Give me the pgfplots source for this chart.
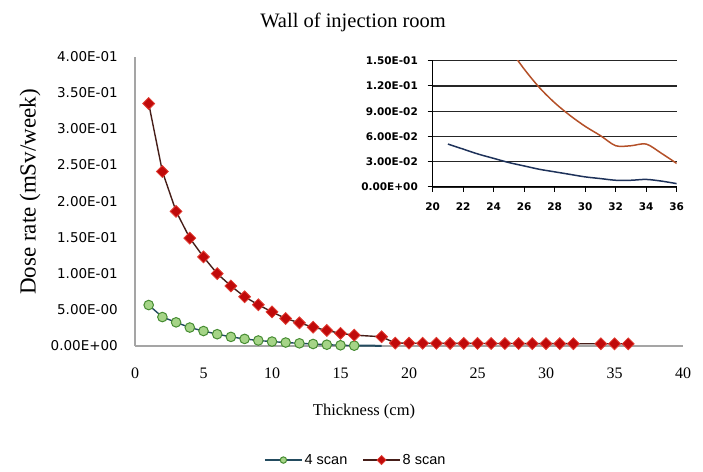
\documentclass[border=0pt]{standalone}
\usepackage{fontspec}
\setmainfont{Liberation Serif}
\newfontfamily\dejavu{DejaVu Sans}
\newfontfamily\libsans{Liberation Sans}
\usepackage{pgfplots}
\pgfplotsset{compat=1.18}
\definecolor{axisgray}{RGB}{165,165,165}
\definecolor{greenfill}{RGB}{165,212,135}
\definecolor{greenedge}{RGB}{70,140,50}
\definecolor{linefour}{RGB}{35,75,95}
\definecolor{redfill}{RGB}{192,10,10}
\definecolor{rededge}{RGB}{225,60,50}
\definecolor{lineeight}{RGB}{70,30,25}
\definecolor{insetfour}{RGB}{30,50,90}
\definecolor{inseteight}{RGB}{180,80,40}
\begin{document}
\begin{tikzpicture}
\path[use as bounding box] (0pt,0pt) rectangle (703pt,471pt);
\begin{axis}[
  at={(135pt,125pt)}, anchor=south west, scale only axis,
  width=548pt, height=289.5pt,
  xmin=0, xmax=40, ymin=0, ymax=0.4,
  clip=false,
  axis lines=left,
  axis line style={-, draw=axisgray, line width=1.5pt},
  xtick={0,5,10,15,20,25,30,35,40},
  xticklabels={0,5,10,15,20,25,30,35,40},
  ytick={0,0.05,0.1,0.15,0.2,0.25,0.3,0.35,0.4},
  yticklabels={0.00E+00,5.00E-00,1.00E-01,1.50E-01,2.00E-01,2.50E-01,3.00E-01,3.50E-01,4.00E-01},
  major tick length=0pt,
  xticklabel style={font=\fontsize{16}{16}\selectfont, anchor=base, inner sep=0pt, yshift=-32pt},
  yticklabel style={font=\dejavu\fontsize{13.5}{14}\selectfont, anchor=east, inner sep=0pt, xshift=-17pt},
  title={Wall of injection room},
  every axis title/.style={at={(0.398,1.119)}, anchor=center, font=\fontsize{20.5}{22}\selectfont},
  xlabel={Thickness (cm)},
  every axis x label/.style={at={(0.418,-0.227)}, anchor=center, font=\fontsize{16.5}{18}\selectfont},
  ylabel={Dose rate (mSv/week)},
  every axis y label/.style={at={(-0.1916,0.532)}, anchor=center, rotate=90, font=\fontsize{23}{24}\selectfont},
  legend style={at={(0.403,-0.394)}, anchor=center, draw=none, fill=none,
    font=\libsans\fontsize{14.5}{15}\selectfont, legend columns=2,
    /tikz/every even column/.append style={column sep=13pt}},
  legend image code/.code={\draw[mark repeat=2,mark phase=2,mark size=3.2pt] plot coordinates {(0pt,0pt) (18.5pt,0pt) (37pt,0pt)};},
]
\addplot[color=linefour, line width=2pt, forget plot] coordinates {(16,0.0005) (18,0.0003)};
\addplot[color=linefour, line width=1.4pt, mark=*, mark size=4.8pt,
  mark options={fill=greenfill, draw=greenedge, line width=1pt, solid}] coordinates {
(1,0.0566) (2,0.0400) (3,0.0327) (4,0.0255) (5,0.0207) (6,0.0163) (7,0.0126)
(8,0.0098) (9,0.0076) (10,0.0061) (11,0.0048) (12,0.0037) (13,0.0028)
(14,0.0018) (15,0.0010) (16,0.0005)};
\addlegendentry{4 scan}
\addplot[color=lineeight, line width=1.4pt, mark=square*, mark size=4.2pt,
  mark options={fill=redfill, draw=rededge, line width=0.8pt, solid, rotate=45}] coordinates {
(1,0.335) (2,0.241) (3,0.186) (4,0.149) (5,0.123) (6,0.100) (7,0.083)
(8,0.068) (9,0.057) (10,0.047) (11,0.038) (12,0.032) (13,0.026)
(14,0.0215) (15,0.0175) (16,0.015) (18,0.0128)
(19,0.0040) (20,0.0039) (21,0.0038) (22,0.0037) (23,0.0036) (24,0.0036)
(25,0.0035) (26,0.0035) (27,0.0034) (28,0.0034) (29,0.0033) (30,0.0033)
(31,0.0032) (32,0.0032) (34,0.0031) (35,0.0031) (36,0.0030)};
\addlegendentry{8 scan}
\end{axis}
\begin{axis}[
  at={(432.7pt,284pt)}, anchor=south west, scale only axis,
  width=244pt, height=126.3pt,
  xmin=20, xmax=36, ymin=0, ymax=0.15,
  axis lines=left,
  axis line style={-, black, line width=1pt},
  xtick={20,22,24,26,28,30,32,34,36},
  xticklabels={20,22,24,26,28,30,32,34,36},
  ytick={0,0.03,0.06,0.09,0.12,0.15},
  yticklabels={0.00E+00,3.00E-02,6.00E-02,9.00E-02,1.20E-01,1.50E-01},
  ymajorgrids, grid style={black!85, line width=1.1pt},
  tick align=outside, major tick length=5pt, tick style={black, line width=1pt},
  xticklabel style={font=\dejavu\bfseries\fontsize{10.5}{11}\selectfont, anchor=base, inner sep=0pt, yshift=-18.5pt},
  yticklabel style={font=\dejavu\bfseries\fontsize{10.5}{11}\selectfont, anchor=east, inner sep=0pt, xshift=-9.7pt},
]
\addplot[color=insetfour, line width=1.5pt, smooth] coordinates {
(21,0.051) (22,0.045) (23,0.039) (24,0.034) (25,0.029) (26,0.025) (27,0.021)
(28,0.018) (29,0.015) (30,0.012) (31,0.010) (32,0.008) (33,0.008) (34,0.009)
(35,0.007) (36,0.004)};
\addplot[color=inseteight, line width=1.5pt, smooth] coordinates {
(25,0.165) (26,0.140) (27,0.118) (28,0.100) (29,0.085) (30,0.072) (31,0.061)
(32,0.049) (33,0.049) (34,0.051) (35,0.040) (36,0.028)};
\end{axis}
\end{tikzpicture}
\end{document}
